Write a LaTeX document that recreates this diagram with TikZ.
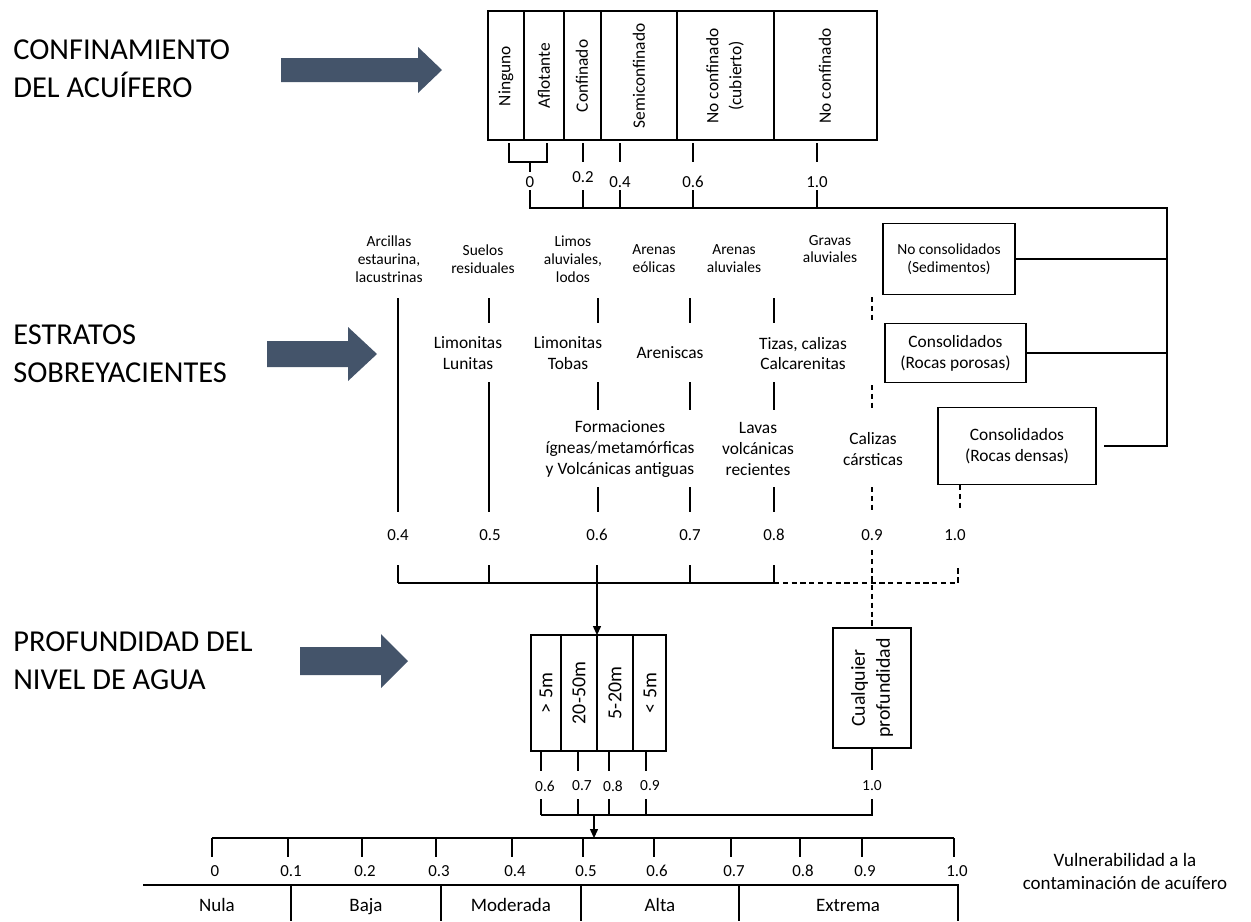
\documentclass[tikz,border=0pt]{standalone}
\usepackage{fontspec}
\setmainfont{Carlito}
\usetikzlibrary{arrows.meta}

\definecolor{arrowblue}{HTML}{44546A}

\tikzset{
  heading/.style={anchor=west, align=left, inner sep=0pt, font=\fontsize{17.3}{21.8}\selectfont},
  small/.style={align=center, inner sep=0pt, font=\fontsize{8.8}{10.2}\selectfont},
  mid/.style={align=center, inner sep=0pt, font=\fontsize{9.9}{11.9}\selectfont},
  val/.style={inner sep=1.5pt, font=\fontsize{9.6}{11}\selectfont},
  smallval/.style={inner sep=1.5pt, font=\fontsize{8.8}{10}\selectfont},
  vert/.style={rotate=90, align=center, inner sep=0pt, font=\fontsize{9.9}{13}\selectfont},
  deep/.style={rotate=90, align=center, inner sep=0pt, font=\fontsize{11.3}{14.2}\selectfont},
  big/.style={align=center, inner sep=0pt, font=\fontsize{10.8}{13}\selectfont},
  box/.style={draw, line width=1pt, inner sep=2pt},
  link/.style={line width=0.6pt},
  dlink/.style={line width=0.6pt, dash pattern=on 3pt off 2pt},
}

\begin{document}
\begin{tikzpicture}[x=0.02cm, y=-0.02cm]
  \useasboundingbox (0,0) rectangle (1251,921);

  % headings and block arrows
  \node[heading] (hconf) at (13,69) {CONFINAMIENTO\\DEL ACUÍFERO};
  \node[heading] (hestr) at (13,353.5) {ESTRATOS\\SOBREYACIENTES};
  \node[heading] (hprof) at (13,661) {PROFUNDIDAD DEL\\NIVEL DE AGUA};
  \foreach \xa/\xb/\xc/\yc/\s/\h in {281/418/442/70/12/23, 267/348/377/354/13/27, 300/381/408/661/14/27}
    \fill[arrowblue] (\xa,\yc-\s) -- (\xb,\yc-\s) -- (\xb,\yc-\h) -- (\xc,\yc)
      -- (\xb,\yc+\h) -- (\xb,\yc+\s) -- (\xa,\yc+\s) -- cycle;

  % confinamiento del acuifero
  \draw[box] (488,11) rectangle (877,140);
  \foreach \x in {524,564,601,677,774}
    \draw[line width=1pt] (\x,11) -- (\x,140);
  \foreach \x/\t in {506/Ninguno, 544/Aflotante, 582/Confinado, 639/Semiconfinado,
                     725/{No confinado\\(cubierto)}, 825/No confinado}
    \node[vert] at (\x,76) {\t};
  \draw[link] (509,143) -- (509,162) -- (547,162) -- (547,143);
  \draw[link] (530,162) -- (530,172);
  \node[val] (c0) at (530,182) {0};
  \foreach \x/\v/\y [count=\i] in {583/0.2/177, 620/0.4/182, 693/0.6/182, 817/1.0/182} {
    \draw[link] (\x,143) -- (\x,162);
    \node[val] (c\i) at (\x,\y) {\v};
    \draw[link] (\x,190) -- (\x,208);
  }

  % tipos de estratos
  \node[box, small, minimum width=2.64cm, minimum height=1.42cm] (sed) at (949,259) {No consolidados\\(Sedimentos)};
  \node[box, mid, minimum width=2.82cm, minimum height=1.18cm] (por) at (955.5,353) {Consolidados\\(Rocas porosas)};
  \node[box, mid, minimum width=3.16cm, minimum height=1.54cm] (den) at (1017,446) {Consolidados\\(Rocas densas)};
  \coordinate (rail) at (1167,208);
  \draw[link] (530,190) -- (530,208) -- (rail) |- ([xshift=4pt]den.east);
  \draw[link] (sed.east) -- (sed.east -| rail);
  \draw[link] (por.east) -- (por.east -| rail);

  \node[small] (arc) at (389,259) {Arcillas\\estaurina,\\lacustrinas};
  \node[small] (sue) at (483,259) {Suelos\\residuales};
  \node[small] (lim) at (573,259) {Limos\\aluviales,\\lodos};
  \node[small] (eol) at (654,259) {Arenas\\eólicas};
  \node[small] (alu) at (734,259) {Arenas\\aluviales};
  \node[small] (gra) at (830,249) {Gravas\\aluviales};

  \node[mid] (lun) at (468,353.5) {Limonitas\\Lunitas};
  \node[mid] (tob) at (568,353.5) {Limonitas\\Tobas};
  \node[mid] (are) at (670,353) {Areniscas};
  \node[mid] (tiz) at (803,353.5) {Tizas, calizas\\Calcarenitas};

  \node[mid] (ign) at (620,449) {Formaciones\\ígneas/metamórficas\\y Volcánicas antiguas};
  \node[mid] (lav) at (758,449) {Lavas\\volcánicas\\recientes};
  \node[mid] (car) at (873,449) {Calizas\\cársticas};

  \draw[link] (398,298) -- (398,512);
  \draw[link] (489,298) -- (489,323) (489,382) -- (489,512);
  \foreach \x in {598,690,774}
    \draw[link] (\x,298) -- (\x,323) (\x,382) -- (\x,410) (\x,487) -- (\x,512);
  \draw[dlink] (872,297) -- (872,323) (872,385) -- (872,410) (872,487) -- (872,512);
  \draw[dlink] (960,485) -- (960,508);

  \foreach \x/\v [count=\i] in {398/0.4, 490/0.5, 597/0.6, 690/0.7, 774/0.8, 872/0.9, 955/1.0}
    \node[val] (s\i) at (\x,535) {\v};
  \foreach \x in {398,489,597,690,774}
    \draw[link] (\x,565) -- (\x,583);
  \draw[link] (398,583) -- (774,583);
  \draw[dlink] (774,583) -- (958,583) -- (958,568);

  % profundidad del nivel de agua
  \node[box, minimum width=1.55cm, minimum height=2.4cm] (anyd) at (872,688) {};
  \node[deep] at (anyd) {Cualquier\\profundidad};
  \draw[dlink] (872,550) -- (anyd.north);
  \draw[box] (531,635) rectangle (666,751);
  \foreach \x in {561,597,633}
    \draw[line width=1pt] (\x,635) -- (\x,751);
  \foreach \x/\t in {546/> 5m, 579/20-50m, 615/5-20m, 650/< 5m}
    \node[deep] at (\x,693) {\t};
  \draw[link, -{Triangle[length=5pt, width=4.5pt]}] (597,583) -- (597,635);

  \foreach \x/\v [count=\i] in {541/0.6, 578/0.7, 609/0.8, 646/0.9} {
    \draw[link] (\x,751) -- (\x,771);
    \node[smallval] (p\i) at (\x+4,786) {\v};
    \draw[link] (\x,799) -- (\x,815);
  }
  \node[smallval] (p5) at (872,786) {1.0};
  \draw[link] (anyd.south) -- (872,770);
  \draw[link] (872,799) -- (872,815) -- (541,815);
  \draw[link, -{Triangle[length=5pt, width=4.5pt]}] (594,815) -- (594,838);

  % vulnerabilidad
  \draw[link] (212,838) -- (954,838);
  \foreach \x/\v [count=\i] in {212/0, 288/0.1, 362/0.2, 436/0.3, 512/0.4, 583/0.5,
                                654/0.6, 731/0.7, 800/0.8, 862/0.9, 954/1.0} {
    \draw[link] (\x,838) -- (\x,857);
    \node[val] (v\i) at (\x+3,871) {\v};
  }
  \draw[link] (143,885) -- (958,885) -- (958,921);
  \foreach \x in {291,441,581,739}
    \draw[link] (\x,885) -- (\x,921);
  \foreach \x/\t in {217/Nula, 366/Baja, 511/Moderada, 660/Alta, 848/Extrema}
    \node[big, anchor=base] at (\x,911) {\t};
  \node[big] (vul) at (1125,871.5) {Vulnerabilidad a la\\contaminación de acuífero};
\end{tikzpicture}
\end{document}
